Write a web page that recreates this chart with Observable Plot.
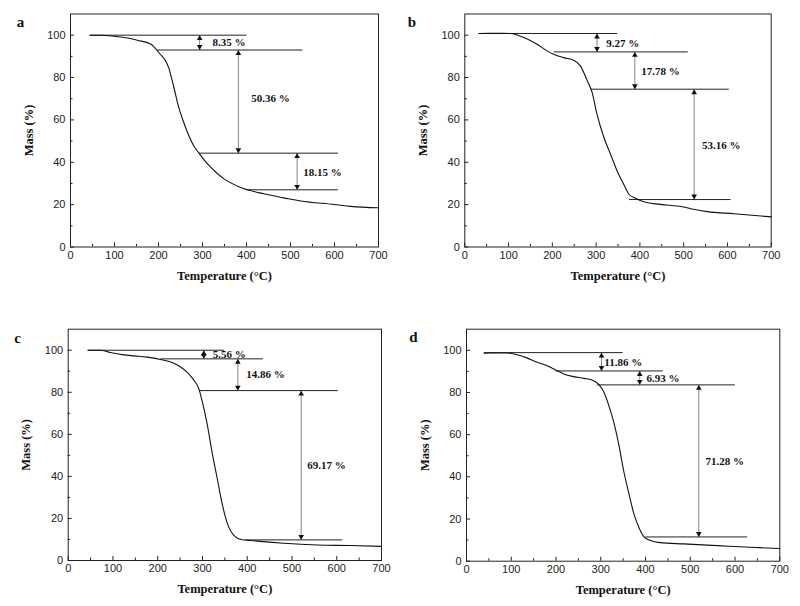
<!DOCTYPE html>
<html><head><meta charset="utf-8">
<script src="https://cdn.jsdelivr.net/npm/d3@7"></script>
<script src="https://cdn.jsdelivr.net/npm/@observablehq/plot@0.6"></script>
<style>
body{margin:0;background:#fff}
#root{position:relative;width:800px;height:606px;overflow:hidden;background:#fff}
#root svg{position:absolute}
</style></head><body><div id="root"></div>
<script>
// ---------- shared ticks ----------
const xMajor = [0,100,200,300,400,500,600,700];
const xMinor = [50,150,250,350,450,550,650];
const yMajor = [0,20,40,60,80,100];
const yMinor = [10,30,50,70,90];

// ---------- panel a ----------
const aTemp = [44,70,100,130,152,182,204,216,223,235,246,257,269,280,292,305,318,333,348,386,439,485,523,599,637,700];
const aMass = [100,100,99.5,98.7,97.6,95.8,91,87.9,84.7,75.3,65.9,59,52.5,47.8,44.3,40.8,37.8,34.8,32.3,28.2,25.1,23.2,21.7,20.1,19.2,18.5];
const aLineX1 = [44,197,292,402];
const aLineX2 = [400,527,608,608];
const aLineY  = [100,93,44.3,27];
const aArrowX = [293.5,381.5,515];
const aArrowTop = [100,93,44.3];
const aArrowBottom = [93,44.3,27];
const aLabelX = [323,411,529];
const aLabelY = [96.5,70.2,35.3];
const aLabelText = ["8.35 %","50.36 %","18.15 %"];

// ---------- panel b ----------
const bTemp = [32,60,85,104,135,165,188,203,226,249,264,280,291,302,318,333,348,363,375,390,409,462,500,523,554,615,700];
const bMass = [100.8,100.9,100.9,100.8,98.9,95.7,92.6,91,89.4,88.2,85.5,78.4,72.9,62.7,51.6,43.8,35.9,29.6,24.9,23,21.4,19.8,18.9,17.8,16.7,15.7,14.2];
const bLineX1 = [32,203,287,375];
const bLineX2 = [348,509.5,603,607];
const bLineY  = [100.8,92.1,74.5,22.4];
const bArrowX = [302,388.5,524];
const bArrowTop = [100.8,92.1,74.5];
const bArrowBottom = [92.1,74.5,22.4];
const bLabelX = [323,403,542];
const bLabelY = [96,83,47.7];
const bLabelText = ["9.27 %","17.78 %","53.16 %"];

// ---------- panel c ----------
const cTemp = [44,72,94,124,147,176,206,236,251,266,280,292,299,310,321,333,344,355,370,388,407,482,556,631,700];
const cMass = [100,100,98.9,97.8,97.3,96.7,95.6,93.8,92,89.5,86,81.6,76,65.5,52,39,27,18,12,9.9,9.5,8.2,7.4,7.1,6.7];
const cLineX1 = [44,206,292,396];
const cLineX2 = [348,435,602.5,612];
const cLineY  = [100,95.9,80.8,9.8];
const cArrowX = [303,379,520.5];
const cArrowTop = [100,95.9,80.8];
const cArrowBottom = [95.9,80.8,9.8];
const cLabelX = [323,397.6,534];
const cLabelY = [97.8,88.3,45.2];
const cLabelText = ["5.56 %","14.86 %","69.17 %"];

// ---------- panel d ----------
const dTemp = [39,54,91,113,135,158,180,199,217,240,262,284,296,307,318,329,340,351,363,374,385,396,411,433,485,560,634,700];
const dMass = [98.6,98.7,98.7,97.9,96.4,94.3,92.7,90.7,88.8,87.5,86.7,85.6,83.7,80.1,73.8,65.9,55.6,43,31.9,22.4,16.1,11.7,9.8,8.8,8.2,7.4,6.6,6];
const dLineX1 = [39,199,292,400];
const dLineX2 = [349,438.6,599.5,627];
const dLineY  = [98.9,90.2,83.6,11.5];
const dArrowX = [301.6,387,519];
const dArrowTop = [98.9,90.2,83.6];
const dArrowBottom = [90.2,83.6,11.5];
const dLabelX = [308,402,534];
const dLabelY = [94,86.6,47.4];
const dLabelText = ["11.86 %","6.93 %","71.28 %"];

const serif = "'Liberation Serif', 'Times New Roman', serif";
const sans = "'Liberation Sans', Arial, sans-serif";

function panel(o) {
  const W = 400, H = 290;
  const innerH = H - o.mt - o.mb;
  const innerW = W - o.ml - o.mr;
  const curve = o.temp.map((t, i) => ({t, m: o.mass[i]}));
  const hl = o.lx1.map((x1, i) => ({x1, x2: o.lx2[i], y: o.ly[i]}));
  const ar = o.ax.map((x, i) => ({x, y1: o.atop[i], y2: o.abot[i]}));
  const lb = o.labx.map((x, i) => ({x, y: o.laby[i], t: o.labt[i]}));
  const svg = Plot.plot({
    width: W, height: H,
    marginLeft: o.ml, marginRight: o.mr, marginTop: o.mt, marginBottom: o.mb,
    x: {domain: [0, 700]},
    y: {domain: [0, 110]},
    style: {fontFamily: sans, fontSize: "11px", color: "#222", background: "transparent", overflow: "visible"},
    marks: [
      Plot.axisX({ticks: xMajor, tickSize: 0, tickPadding: 4, label: null, fontSize: 11}),
      Plot.axisY({ticks: yMajor, tickSize: 0, tickPadding: 5, label: null, fontSize: 11}),
      Plot.tickX(xMajor, {x: d => d, insetTop: innerH - 4, stroke: "#222"}),
      Plot.tickX(xMinor, {x: d => d, insetTop: innerH - 2.5, stroke: "#222"}),
      Plot.tickY(yMajor, {y: d => d, insetRight: innerW - 4, stroke: "#222"}),
      Plot.tickY(yMinor, {y: d => d, insetRight: innerW - 2.5, stroke: "#222"}),
      Plot.frame({stroke: "#222", strokeWidth: 1}),
      Plot.link(ar, {x1: "x", x2: "x", y1: "y1", y2: "y2", stroke: "#666", strokeWidth: 0.8}),
      Plot.dot(ar, {x: "x", y: "y1", symbol: "triangle", r: 2.1, fill: "#111", stroke: null, dy: 3.3}),
      Plot.dot(ar, {x: "x", y: "y2", symbol: "triangle", r: 2.1, fill: "#111", stroke: null, rotate: 180, dy: -3.3}),
      Plot.link(hl, {x1: "x1", x2: "x2", y1: "y", y2: "y", stroke: "#222", strokeWidth: 1}),
      Plot.line(curve, {x: "t", y: "m", curve: "monotone-x", stroke: "#111", strokeWidth: 1.1}),
      Plot.text(lb, {x: "x", y: "y", text: "t", textAnchor: "start", fontFamily: serif, fontWeight: "bold", fontSize: 11, fill: "#111"}),
      Plot.text(["Temperature (°C)"], {frameAnchor: "bottom", dy: o.xtdy, fontFamily: serif, fontWeight: "bold", fontSize: 12.5, fill: "#111", lineAnchor: "middle"}),
      Plot.text(["Mass (%)"], {frameAnchor: "left", dx: o.ytdx, rotate: -90, fontFamily: serif, fontWeight: "bold", fontSize: 12.5, fill: "#111", textAnchor: "middle", lineAnchor: "middle"}),
      Plot.text([o.letter], {frameAnchor: "top-left", dx: o.ldx, dy: o.ldy, fontFamily: serif, fontWeight: "bold", fontSize: 15, fill: "#111", textAnchor: "middle", lineAnchor: "middle"})
    ]
  });
  svg.style.left = o.left + "px";
  svg.style.top = o.top + "px";
  document.getElementById("root").appendChild(svg);
}

panel({left: 0, top: 0, ml: 70, mr: 22, mt: 13.5, mb: 43.5, xtdy: 28.5, ytdx: -42, ldx: -50, ldy: 8, letter: "a",
  temp: aTemp, mass: aMass, lx1: aLineX1, lx2: aLineX2, ly: aLineY, ax: aArrowX, atop: aArrowTop, abot: aArrowBottom, labx: aLabelX, laby: aLabelY, labt: aLabelText});
panel({left: 400, top: 0, ml: 64.3, mr: 29.3, mt: 13.5, mb: 43.5, xtdy: 28.5, ytdx: -42, ldx: -53, ldy: 8, letter: "b",
  temp: bTemp, mass: bMass, lx1: bLineX1, lx2: bLineX2, ly: bLineY, ax: bArrowX, atop: bArrowTop, abot: bArrowBottom, labx: bLabelX, laby: bLabelY, labt: bLabelText});
panel({left: 0, top: 316, ml: 67.7, mr: 19, mt: 12.7, mb: 46, xtdy: 28.5, ytdx: -42, ldx: -50.5, ldy: 9, letter: "c",
  temp: cTemp, mass: cMass, lx1: cLineX1, lx2: cLineX2, ly: cLineY, ax: cArrowX, atop: cArrowTop, abot: cArrowBottom, labx: cLabelX, laby: cLabelY, labt: cLabelText});
panel({left: 400, top: 316, ml: 66, mr: 20.7, mt: 12.7, mb: 45.3, xtdy: 28.5, ytdx: -42, ldx: -53, ldy: 8, letter: "d",
  temp: dTemp, mass: dMass, lx1: dLineX1, lx2: dLineX2, ly: dLineY, ax: dArrowX, atop: dArrowTop, abot: dArrowBottom, labx: dLabelX, laby: dLabelY, labt: dLabelText});
</script>
</body></html>
